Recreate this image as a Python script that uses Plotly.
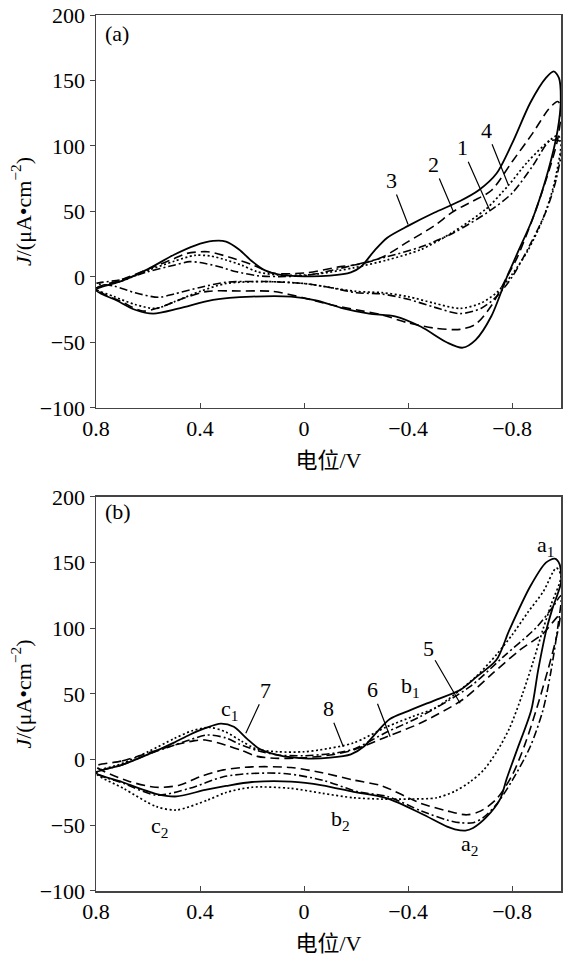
import plotly.graph_objects as go

# ---------------- panel (a) ----------------
# curve 3 (solid)
a3_E = [0.8, 0.7, 0.6, 0.5, 0.42, 0.35, 0.3, 0.25, 0.2, 0.15, 0.1, 0.0, -0.1, -0.18, -0.22, -0.27, -0.32, -0.4, -0.5,
        -0.6, -0.67, -0.74, -0.8, -0.87, -0.93, -0.96, -0.98, -0.987,
        -0.975, -0.94, -0.88, -0.82, -0.78, -0.72, -0.66, -0.61, -0.55, -0.45, -0.35, -0.25, -0.15, -0.05, 0.05, 0.2,
        0.35, 0.48, 0.58, 0.65, 0.72, 0.8]
a3_J = [-10, -3, 6, 17, 24, 27.5, 27, 21, 12, 5, 2, 0.5, 1, 3.5, 8, 20, 30, 39, 49,
        58, 66, 79, 102, 133, 152, 157, 152, 135,
        112, 82, 45, 18, 0, -30, -48, -54, -50, -38, -30, -28, -24, -18, -15, -15,
        -17.5, -24, -28, -25, -18, -10]
# curve 2 (dashed)
a2_E = [0.8, 0.7, 0.6, 0.5, 0.45, 0.37, 0.29, 0.2, 0.12, 0.0, -0.14, -0.22, -0.3, -0.4, -0.5, -0.574, -0.65, -0.72,
        -0.8, -0.88, -0.94, -0.975, -0.988,
        -0.975, -0.94, -0.88, -0.82, -0.78, -0.72, -0.66, -0.6, -0.5, -0.4, -0.3, -0.2, -0.1, 0.0, 0.12, 0.25, 0.37,
        0.46, 0.55, 0.62, 0.7, 0.8]
a2_J = [-9, -2, 6, 14, 18, 19.3, 15.3, 9.4, 3, 3, 7.9, 10, 15, 27, 39, 50, 58, 66,
        88, 110, 128, 134, 130,
        105, 80, 45, 15, 0, -22, -36, -40, -39, -35, -29, -25, -21, -16, -11, -10.7, -11,
        -16, -23, -26, -19, -9]
# curve 1 (dash-dot)
a1_E = [0.8, 0.7, 0.6, 0.5, 0.44, 0.4, 0.33, 0.26, 0.18, 0.1, 0.0, -0.06, -0.19, -0.32, -0.45, -0.574, -0.715, -0.8,
        -0.88, -0.946, -0.988,
        -0.97, -0.93, -0.87, -0.8, -0.74, -0.68, -0.6, -0.5, -0.4, -0.3, -0.2, -0.1, 0.0, 0.15, 0.3, 0.4, 0.5, 0.56,
        0.65, 0.73, 0.8]
a1_J = [-5, -2, 4, 9, 11.7, 11, 8, 4, 1, 0.3, 1, 3, 9, 15.5, 23, 33.6, 50.6, 64,
        85, 104, 103,
        75, 50, 25, 0, -15, -24, -28, -23, -17, -13, -12, -8, -5, -3.5, -4, -8, -13, -15.5,
        -12, -7, -5]
# curve 4 (dotted)
a4_E = [0.8, 0.7, 0.6, 0.5, 0.42, 0.36, 0.3, 0.24, 0.18, 0.1, 0.0, -0.06, -0.19, -0.32, -0.45, -0.57, -0.7, -0.786,
        -0.86, -0.946, -0.975, -0.988,
        -0.96, -0.92, -0.86, -0.8, -0.74, -0.68, -0.6, -0.5, -0.4, -0.3, -0.2, -0.1, 0.0, 0.15, 0.3, 0.4, 0.5, 0.57,
        0.65, 0.73, 0.8]
a4_J = [-9, -3, 5, 12, 16.5, 16, 13, 9, 4, 1.5, 1.5, 2.5, 7, 13, 21, 34, 52, 70,
        88, 104.6, 108, 104,
        70, 45, 20, 2, -12, -20, -24, -20, -15, -12, -11, -8, -5, -3.5, -5, -11, -19, -24,
        -21, -15, -9]

# ---------------- panel (b) ----------------
# curve 7 (solid)
b7_E = [0.8, 0.7, 0.6, 0.5, 0.44, 0.38, 0.32, 0.27, 0.22, 0.17, 0.1, 0.0, -0.1, -0.18, -0.23, -0.28, -0.33, -0.4,
        -0.5, -0.6, -0.663, -0.74, -0.79, -0.87, -0.93, -0.964, -0.982, -0.988,
        -0.955, -0.932, -0.9, -0.874, -0.82, -0.78, -0.754, -0.7, -0.65, -0.62, -0.58, -0.55, -0.45, -0.32, -0.19,
        -0.07, 0.05, 0.2, 0.3, 0.38, 0.49, 0.57, 0.7, 0.8]
b7_J = [-10, -4, 4, 13, 19, 24, 27.5, 25, 16, 8, 3.5, 1, 1.5, 4, 10, 21, 31, 37,
        45, 53, 63, 76, 99, 132, 150, 153, 149, 135,
        115, 99, 68, 38, 8, -14, -30, -44, -52, -54, -53, -51, -41, -29.5, -24.5,
        -19.5, -16.7, -17, -20, -23, -28, -26, -17, -10]
# curve 8 (dotted)
b8_E = [0.8, 0.7, 0.6, 0.5, 0.43, 0.36, 0.3, 0.24, 0.18, 0.1, 0.0, -0.06, -0.19, -0.318, -0.42, -0.51, -0.66,
        -0.74, -0.8, -0.86, -0.92, -0.97, -0.988,
        -0.95, -0.92, -0.88, -0.84, -0.79, -0.741, -0.69, -0.638, -0.58, -0.51, -0.4, -0.3, -0.19, -0.07, 0.054,
        0.2, 0.3, 0.37, 0.49, 0.567, 0.695, 0.8]
b8_J = [-10, -3, 6, 16, 22, 24.5, 21, 14, 8, 6, 6, 7.4, 12.7, 25, 33, 40, 63,
        80, 95, 112, 128, 146, 140,
        118, 100, 74, 50, 24, 6, -8, -17, -24, -29, -30, -30, -29, -25.6, -21.8,
        -21, -25, -30.7, -38.3, -35.8, -21.8, -10]
# curve 5 (dashed)
b5_E = [0.8, 0.7, 0.6, 0.5, 0.42, 0.38, 0.3, 0.24, 0.18, 0.1, 0.0, -0.1, -0.19, -0.318, -0.446, -0.612, -0.727, -0.83,
        -0.919, -0.983,
        -0.977, -0.94, -0.893, -0.85, -0.8, -0.74, -0.68, -0.626, -0.55, -0.446, -0.3, -0.19, -0.07, 0.05, 0.2, 0.31,
        0.4, 0.48, 0.57, 0.68, 0.8]
b5_J = [-5, -1, 5, 11, 14.5, 15, 11, 7, 2.5, 1, 1.5, 3.5, 7.4, 17.5, 27.7, 46, 66, 83.5,
        96, 110,
        99, 70, 38, 12, -12, -30, -39, -42, -39, -33, -20, -15.5, -10, -6, -5.5, -7.8,
        -13, -19.5, -21, -16, -5]
# curve 6 (dash-dot)
b6_E = [0.8, 0.7, 0.6, 0.5, 0.44, 0.374, 0.3, 0.25, 0.18, 0.1, 0.0, -0.1, -0.19, -0.318, -0.446, -0.638, -0.767,
        -0.895, -0.959, -0.988,
        -0.975, -0.95, -0.919, -0.87, -0.8, -0.74, -0.69, -0.65, -0.6, -0.55, -0.45, -0.32, -0.21, -0.072, 0.066, 0.2,
        0.31, 0.44, 0.567, 0.695, 0.8]
b6_J = [-10, -4, 4, 11, 15, 18.8, 16.5, 12, 7, 3.6, 3, 4.5, 8, 21, 32.7, 55.6, 78.5,
        101, 117, 125,
        100, 68, 38, 10, -16, -34, -44, -48, -48, -46, -39, -28, -24.6, -15.7, -10.7, -10.5,
        -13, -21.8, -27, -18, -10]

x_ticks = [0.8, 0.4, 0, -0.4, -0.8]
x_ticktext = ["0.8", "0.4", "0", "\u22120.4", "\u22120.8"]
y_ticks = [-100, -50, 0, 50, 100, 150, 200]
y_ticktext = ["\u2212100", "\u221250", "0", "50", "100", "150", "200"]

SOLID = "solid"
DASH = "9px,5px"
DOT = "2px,2.5px"
DASHDOT = "8px,3px,2px,3px"

fig = go.Figure()

def add(E, J, dash, xa, ya, w=1.6):
    fig.add_trace(go.Scatter(x=E, y=J, mode="lines", xaxis=xa, yaxis=ya,
                             line=dict(color="black", width=w, dash=dash, shape="spline", smoothing=0.8),
                             showlegend=False, hoverinfo="skip"))

add(a1_E, a1_J, DASHDOT, "x", "y")
add(a4_E, a4_J, DOT, "x", "y", 1.7)
add(a2_E, a2_J, DASH, "x", "y")
add(a3_E, a3_J, SOLID, "x", "y", 1.8)
add(b6_E, b6_J, DASHDOT, "x2", "y2")
add(b8_E, b8_J, DOT, "x2", "y2", 1.7)
add(b5_E, b5_J, DASH, "x2", "y2")
add(b7_E, b7_J, SOLID, "x2", "y2", 1.8)

FONT = "Liberation Serif, Times New Roman, Noto Sans CJK SC, serif"
TITLE_FONT = "Liberation Serif, Noto Sans CJK SC, serif"

xcommon = dict(range=[0.8, -0.988], tickvals=x_ticks, ticktext=x_ticktext, ticks="inside", ticklen=5,
               tickcolor="#444", showline=True, linecolor="#444", linewidth=1.5, mirror=True,
               showgrid=False, zeroline=False, automargin=False, ticklabeloverflow="allow",
               tickfont=dict(family=FONT, size=22, color="black"))
ycommon = dict(range=[-100, 200], tickvals=y_ticks, ticktext=y_ticktext, ticks="outside", ticklen=5,
               tickcolor="#444", showline=True, linecolor="#444", linewidth=1.5, mirror=True,
               showgrid=False, zeroline=False, automargin=False, ticklabeloverflow="allow",
               tickfont=dict(family=FONT, size=22, color="black"))

ytitle = dict(text="<i>J</i>/(\u03bcA\u2022cm<sup>\u22122</sup>)", font=dict(family=FONT, size=22, color="black"),
              standoff=2)
xtitle = dict(text="电位/V", font=dict(family=TITLE_FONT, size=22, color="black"), standoff=12)

fig.update_layout(
    width=563, height=960,
    margin=dict(l=96, r=2, t=15, b=69, autoexpand=False),
    paper_bgcolor="white", plot_bgcolor="white",
    hovermode=False,
    xaxis=dict(domain=[0, 1], anchor="y", title=xtitle, **xcommon),
    yaxis=dict(domain=[0.5514, 1], anchor="x", title=ytitle, **ycommon),
    xaxis2=dict(domain=[0, 1], anchor="y2", title=xtitle, **xcommon),
    yaxis2=dict(domain=[0, 0.4498], anchor="x2", title=ytitle, **ycommon),
)

LF = dict(family=FONT, size=22, color="black")

def label(text, x, y, xr, yr, ax=None, ay=None):
    if ax is None:
        fig.add_annotation(text=text, x=x, y=y, xref=xr, yref=yr, showarrow=False, font=LF)
    else:
        fig.add_annotation(text=text, x=x, y=y, xref=xr, yref=yr, showarrow=True, arrowhead=0,
                           arrowwidth=1.2, arrowcolor="black", ax=ax, ay=ay, standoff=0, font=LF)

label("(a)", 0.72, 186, "x", "y")
label("3", -0.40, 40, "x", "y", -17, -44)
label("2", -0.574, 50, "x", "y", -20, -47)
label("1", -0.715, 50.6, "x", "y", -28, -63)
label("4", -0.786, 70, "x", "y", -22, -55)

label("(b)", 0.714, 189, "x2", "y2")
label("5", -0.6, 43, "x2", "y2", -32, -55)
label("6", -0.331, 17.5, "x2", "y2", -18, -47)
label("8", -0.151, 9.9, "x2", "y2", -15, -38)
label("7", 0.224, 20.1, "x2", "y2", 20, -43)
label("a<sub>1</sub>", -0.93, 163, "x2", "y2")
label("a<sub>2</sub>", -0.638, -65, "x2", "y2")
label("b<sub>1</sub>", -0.408, 55.6, "x2", "y2")
label("b<sub>2</sub>", -0.142, -46, "x2", "y2")
label("c<sub>1</sub>", 0.286, 37.9, "x2", "y2")
label("c<sub>2</sub>", 0.555, -51, "x2", "y2")

# remove the browser's default 8px page margin so the figure fills the window exactly
fig.write_html("out.html", config={"displayModeBar": False, "staticPlot": True},
               post_script="document.body.style.margin='0';")
